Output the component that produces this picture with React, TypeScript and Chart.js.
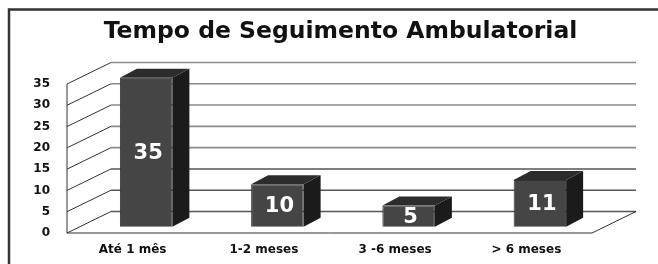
import React, { useEffect, useRef } from "react";
import { Chart, registerables } from "chart.js";

Chart.register(...registerables);

const TITLE = "Tempo de Seguimento Ambulatorial";
const categories = ["Até 1 mês", "1-2 meses", "3 -6 meses", "> 6 meses"];
const values = [35, 10, 5, 11];
const yMin = 0;
const yMax = 35;
const yStep = 5;

// 3D depth of the walls and bars (pixels)
const WALL_DX = 44;
const WALL_DY = -21.5;
const BAR_DX = 17;
const BAR_DY = -9;
const BAR_SHIFT_X = (WALL_DX - BAR_DX) / 2;
const BAR_SHIFT_Y = (WALL_DY - BAR_DY) / 2;

const threeD = {
  id: "threeD",
  beforeDraw(chart: any) {
    const ctx = chart.ctx;
    ctx.save();
    ctx.fillStyle = "#ffffff";
    ctx.fillRect(0, 0, chart.width, chart.height);
    // outer frame (only top and left edges are visible)
    ctx.strokeStyle = "#333333";
    ctx.lineWidth = 2.5;
    ctx.beginPath();
    ctx.moveTo(chart.width, 9.5);
    ctx.lineTo(9, 9.5);
    ctx.lineTo(9, chart.height);
    ctx.stroke();
    // title
    ctx.fillStyle = "#111111";
    ctx.font = "bold 23.5px 'DejaVu Sans'";
    ctx.textAlign = "center";
    ctx.textBaseline = "alphabetic";
    ctx.fillText(TITLE, 340.5, 38);
    ctx.restore();
  },
  beforeDatasetsDraw(chart: any) {
    const ctx = chart.ctx;
    const { left, right, bottom } = chart.chartArea;
    const ys = chart.scales.y;
    ctx.save();
    const ticks = ys.ticks.map((t: any) => t.value);
    // back wall gridlines
    ctx.lineWidth = 1.6;
    for (const v of ticks) {
      const y = ys.getPixelForValue(v) + WALL_DY;
      ctx.strokeStyle = v < 15 ? "#555555" : "#8a8a8a";
      ctx.beginPath();
      ctx.moveTo(left + WALL_DX, y);
      ctx.lineTo(right + WALL_DX, y);
      ctx.stroke();
    }
    // side wall diagonals
    ctx.strokeStyle = "#333333";
    ctx.lineWidth = 1;
    for (const v of ticks) {
      const y = ys.getPixelForValue(v);
      ctx.beginPath();
      ctx.moveTo(left, y);
      ctx.lineTo(left + WALL_DX, y + WALL_DY);
      ctx.stroke();
    }
    // front vertical edge of side wall
    ctx.beginPath();
    ctx.moveTo(left, ys.getPixelForValue(yMax));
    ctx.lineTo(left, ys.getPixelForValue(yMin));
    ctx.stroke();
    // floor
    ctx.beginPath();
    ctx.moveTo(left, bottom);
    ctx.lineTo(right, bottom);
    ctx.lineTo(right + WALL_DX, bottom + WALL_DY);
    ctx.stroke();
    ctx.restore();

    ctx.save();
    ctx.translate(BAR_SHIFT_X, BAR_SHIFT_Y);
  },
  afterDatasetsDraw(chart: any) {
    const ctx = chart.ctx;
    ctx.restore();
    const meta = chart.getDatasetMeta(0);
    ctx.save();
    meta.data.forEach((bar: any, i: number) => {
      const { x, y, base, width } = bar.getProps(["x", "y", "base", "width"], true);
      const l = x - width / 2 + BAR_SHIFT_X;
      const r = x + width / 2 + BAR_SHIFT_X;
      const t = y + BAR_SHIFT_Y;
      const b = base + BAR_SHIFT_Y;
      // side face
      ctx.fillStyle = "#1b1b1b";
      ctx.beginPath();
      ctx.moveTo(r, t);
      ctx.lineTo(r + BAR_DX, t + BAR_DY);
      ctx.lineTo(r + BAR_DX, b + BAR_DY);
      ctx.lineTo(r, b);
      ctx.closePath();
      ctx.fill();
      // top face
      ctx.fillStyle = "#2c2c2c";
      ctx.beginPath();
      ctx.moveTo(l, t);
      ctx.lineTo(l + BAR_DX, t + BAR_DY);
      ctx.lineTo(r + BAR_DX, t + BAR_DY);
      ctx.lineTo(r, t);
      ctx.closePath();
      ctx.fill();
      // value label
      ctx.fillStyle = "#ffffff";
      ctx.font = "bold 21px 'DejaVu Sans'";
      ctx.textAlign = "center";
      ctx.textBaseline = "middle";
      ctx.fillText(String(values[i]), (l + r) / 2 + 2, (t + b) / 2 + 1);
    });
    ctx.restore();
  },
};

export default function App() {
  const ref = useRef<HTMLCanvasElement | null>(null);
  useEffect(() => {
    if (!ref.current) return;
    const chart = new Chart(ref.current, {
      type: "bar",
      data: {
        labels: categories,
        datasets: [
          {
            data: values,
            backgroundColor: "#454545",
            borderColor: "#333333",
            borderWidth: 1,
            categoryPercentage: 1,
            barPercentage: 0.4,
            clip: false as any,
          },
        ],
      },
      options: {
        responsive: false,
        animation: false,
        layout: { padding: { top: 84, right: 66, left: 0, bottom: 0 } },
        plugins: {
          legend: { display: false },
          title: { display: false },
          tooltip: { enabled: false },
        },
        scales: {
          x: {
            grid: { display: false, drawTicks: false },
            border: { display: false },
            ticks: {
              color: "#111111",
              padding: 10,
              maxRotation: 0,
              font: { family: "'DejaVu Sans'", weight: "bold", size: 12 },
            },
            afterFit(scale: any) {
              scale.height = 31;
            },
          },
          y: {
            min: yMin,
            max: yMax,
            grid: { display: false, drawTicks: false },
            border: { display: false },
            ticks: {
              stepSize: yStep,
              color: "#111111",
              padding: 17,
              font: { family: "'DejaVu Sans'", weight: "bold", size: 12 },
            },
            afterFit(scale: any) {
              scale.width = 67;
            },
          },
        },
      },
      plugins: [threeD],
    });
    return () => chart.destroy();
  }, []);
  return (
    <div style={{ position: "fixed", left: 0, top: 0, width: 658, height: 264, overflow: "hidden" }}>
      <canvas ref={ref} width={658} height={264} style={{ display: "block" }} />
    </div>
  );
}
